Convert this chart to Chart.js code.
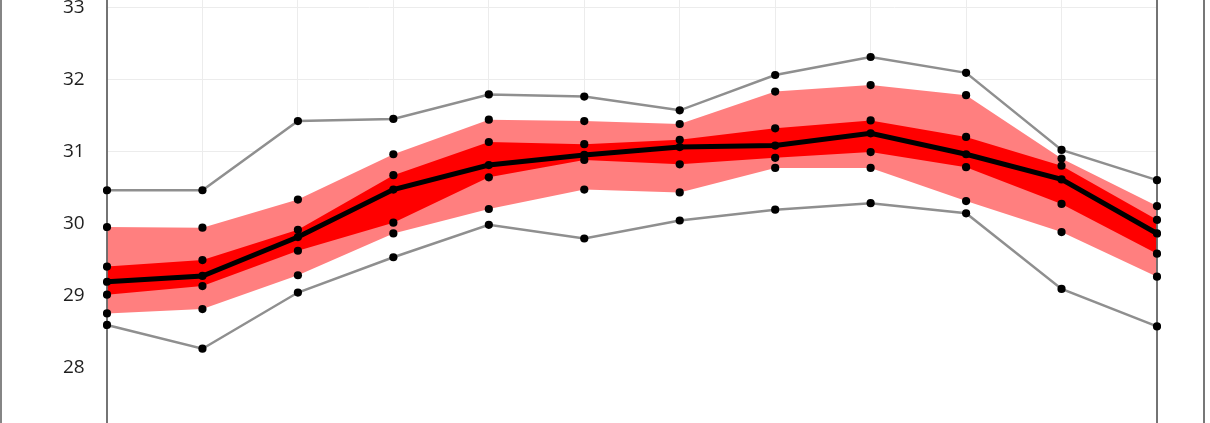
<!DOCTYPE html>
<html>
<head>
<meta charset="utf-8">
<script src="https://cdn.jsdelivr.net/npm/chart.js@4/dist/chart.umd.min.js"></script>
<style>
  html, body { margin: 0; padding: 0; background: #fff; }
  #wrap { position: relative; width: 1210px; height: 423px; }
  #edgeL { position: absolute; left: 0; top: 0; width: 2px; height: 423px; background: #858585; }
  #edgeR { position: absolute; left: 1203px; top: 0; width: 2px; height: 423px; background: #777; }
</style>
</head>
<body>
<div id="wrap">
  <canvas id="grafica" width="1210" height="423"></canvas>
  <div id="edgeL"></div>
  <div id="edgeR"></div>
</div>
<script>
const puntos = ['1', '2', '3', '4', '5', '6', '7', '8', '9', '10', '11', '12']
const minimo = [28.59, 28.26, 29.04, 29.53, 29.98, 29.79, 30.04, 30.19, 30.28, 30.14, 29.09, 28.57]
const p10 = [28.75, 28.81, 29.28, 29.86, 30.20, 30.47, 30.43, 30.77, 30.77, 30.31, 29.88, 29.26]
const p25 = [29.01, 29.13, 29.62, 30.01, 30.64, 30.88, 30.82, 30.91, 30.99, 30.78, 30.27, 29.58]
const mediana = [29.19, 29.27, 29.81, 30.47, 30.81, 30.95, 31.06, 31.08, 31.25, 30.96, 30.61, 29.86]
const p75 = [29.40, 29.49, 29.91, 30.67, 31.13, 31.10, 31.16, 31.32, 31.43, 31.20, 30.80, 30.05]
const p90 = [29.95, 29.94, 30.33, 30.96, 31.44, 31.42, 31.38, 31.83, 31.92, 31.78, 30.90, 30.24]
const maximo = [30.46, 30.46, 31.42, 31.45, 31.79, 31.76, 31.57, 32.06, 32.31, 32.09, 31.02, 30.60]
const ticksY = [28, 29, 30, 31, 32, 33]

const gris = '#8f8f8f'
const puntoNegro = {
    pointRadius: 4.1,
    pointBackgroundColor: '#000',
    pointBorderColor: '#000',
    pointBorderWidth: 0,
    tension: 0
}

// lineas de los ejes encima de los rellenos
const ejes = {
    id: 'ejes',
    beforeDatasetsDraw(chart) {
        const ctx = chart.ctx
        const a = chart.chartArea
        ctx.save()
        ctx.strokeStyle = '#666'
        ctx.lineWidth = 1.8
        ctx.beginPath()
        ctx.moveTo(a.left, a.top)
        ctx.lineTo(a.left, a.bottom)
        ctx.moveTo(a.right, a.top)
        ctx.lineTo(a.right, a.bottom)
        ctx.stroke()
        ctx.restore()
    }
}

const datos = {
    labels: puntos,
    datasets: [
        { label: 'mediana', data: mediana, borderColor: '#000', borderWidth: 5, fill: false, ...puntoNegro },
        { label: 'p75', data: p75, borderWidth: 0, borderColor: 'rgba(0,0,0,0)', backgroundColor: '#ff0000', fill: 2, ...puntoNegro },
        { label: 'p25', data: p25, borderWidth: 0, borderColor: 'rgba(0,0,0,0)', fill: false, ...puntoNegro },
        { label: 'p90', data: p90, borderWidth: 0, borderColor: 'rgba(0,0,0,0)', backgroundColor: '#ff7f7f', fill: 4, ...puntoNegro },
        { label: 'p10', data: p10, borderWidth: 0, borderColor: 'rgba(0,0,0,0)', fill: false, ...puntoNegro },
        { label: 'min', data: minimo, borderColor: gris, borderWidth: 2.5, fill: false, ...puntoNegro },
        { label: 'max', data: maximo, borderColor: gris, borderWidth: 2.5, backgroundColor: '#ffffff', fill: 'start', ...puntoNegro }
    ]
}

const config = {
    type: 'line',
    data: datos,
    options: {
        responsive: false,
        animation: false,
        layout: { autoPadding: false, padding: { left: 63, right: 53, top: 0, bottom: 0 } },
        plugins: {
            legend: { display: false },
            tooltip: { enabled: false },
            filler: { drawTime: 'beforeDatasetsDraw' }
        },
        scales: {
            x: {
                offset: false,
                afterFit: (s) => { s.height = 0 },
                ticks: { display: false },
                border: { display: false },
                grid: { color: '#ececec', lineWidth: 1, drawTicks: false }
            },
            y: {
                min: 27.23,
                max: 33.1,
                afterFit: (s) => { s.width = 44 },
                afterBuildTicks: (s) => { s.ticks = ticksY.map(v => ({ value: v })) },
                ticks: {
                    padding: 0,
                    crossAlign: 'far',
                    color: '#1e1e1e',
                    font: { family: 'Open Sans', size: 19, lineHeight: 0.01 }
                },
                border: { display: false },
                grid: { color: '#ececec', lineWidth: 1, drawTicks: false }
            }
        }
    },
    plugins: [ejes]
}

let miGrafica = new Chart(document.getElementById('grafica'), config)
</script>
</body>
</html>
